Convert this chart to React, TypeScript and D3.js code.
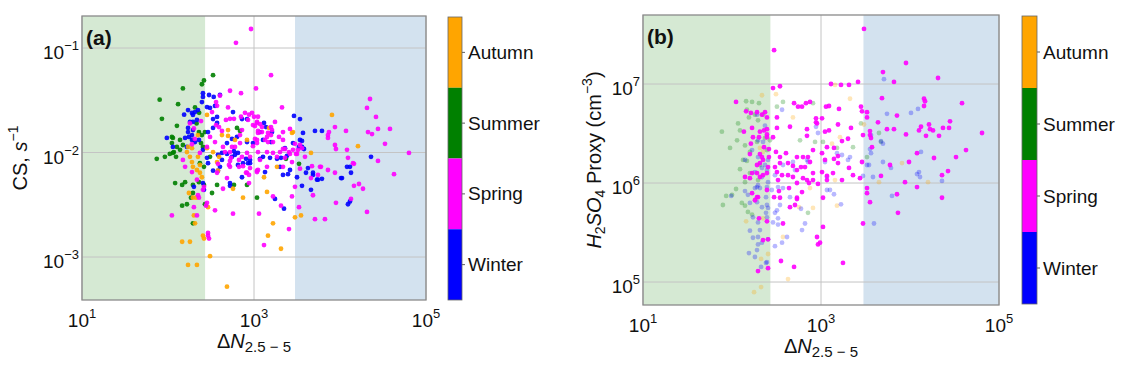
import * as d3 from "d3";

type Pt = [number, number];

const seasons = ["Winter", "Spring", "Summer", "Autumn"];
const seasonColors: Record<string, string> = {
  Winter: "#0000ff",
  Spring: "#ff00ff",
  Summer: "#008000",
  Autumn: "#ffa500",
};
// colorbar order, top to bottom
const cbarOrder = ["Autumn", "Summer", "Spring", "Winter"];

const xTicks = [10, 1000, 100000];
const csTicks = [0.001, 0.01, 0.1];
const proxyTicks = [1e5, 1e6, 1e7];
const greenBand: Pt = [10, 270];
const blueBand: Pt = [3000, 100000];

// panel (a): [ΔN2.5-5, CS (s^-1)]
const csWinter: Pt[] = [
  [255, 0.037], [255, 0.034], [300, 0.0355], [154, 0.023], [570, 0.0244], [2917, 0.0224], [3426, 0.0209],
  [22930, 0.0091], [12060, 0.0073], [13060, 0.0073], [13420, 0.0064], [10550, 0.0057], [5116, 0.0161],
  [6169, 0.0161], [3712, 0.0154], [3614, 0.0129], [3813, 0.0108], [3336, 0.0113], [2292, 0.011], [2060, 0.0089],
  [2621, 0.0068], [2484, 0.0062], [2173, 0.0061], [3162, 0.0058], [4022, 0.0064], [4850, 0.0061], [5543, 0.0055],
  [6169, 0.0056], [10270, 0.0057], [3614, 0.0048], [4597, 0.0044], [13060, 0.0034], [12380, 0.0032],
  [2232, 0.0029], [1754, 0.0036], [725, 0.0058], [200, 0.0047], [262, 0.0044], [526, 0.0048], [334, 0.0067],
  [381, 0.0067], [651, 0.0076], [852, 0.0079], [340, 0.034], [402, 0.0355], [248, 0.0304], [284, 0.0272],
  [308, 0.0267], [352, 0.0279], [1307, 0.0192], [829, 0.0209], [725, 0.0209], [1577, 0.0126], [485, 0.0123],
  [555, 0.0135], [634, 0.0141], [829, 0.0126], [973, 0.0123], [292, 0.0157], [334, 0.0172], [372, 0.0192],
  [334, 0.0209], [372, 0.0219], [190, 0.0239], [206, 0.0244], [223, 0.0255], [180, 0.0196], [195, 0.0196],
  [217, 0.0205], [171, 0.0172], [195, 0.0164], [175, 0.0141], [190, 0.0132], [206, 0.0126], [158, 0.0138],
  [97, 0.0138], [585, 0.0103], [485, 0.0097], [601, 0.0095], [424, 0.0085], [381, 0.0095], [1535, 0.0089],
  [1273, 0.0091], [1343, 0.0065], [2419, 0.0093], [807, 0.0087], [899, 0.0079], [1174, 0.0087], [1851, 0.0087],
  [2006, 0.0073], [1174, 0.0157], [1380, 0.0175], [1619, 0.0157], [1273, 0.0132], [2840, 0.0123], [3426, 0.0132],
  [3614, 0.0113], [4243, 0.0071], [4850, 0.0064], [5397, 0.0055], [255, 0.0051], [402, 0.0073], [526, 0.0051],
  [171, 0.0157], [190, 0.0147], [166, 0.0113], [229, 0.0132], [255, 0.0106], [284, 0.0089], [292, 0.0079],
  [114, 0.0113], [424, 0.0099], [555, 0.0091], [651, 0.0099], [745, 0.0079], [899, 0.0085], [195, 0.0229],
  [171, 0.0255],
];
const csSpring: Pt[] = [
  [923, 0.152], [617, 0.112], [1577, 0.055], [1055, 0.041], [402, 0.035], [526, 0.039], [706, 0.037],
  [2116, 0.027], [499, 0.027], [786, 0.024], [948, 0.024], [1000, 0.022], [22330, 0.0325], [20600, 0.0267],
  [26210, 0.0219], [38130, 0.0168], [27650, 0.0168], [21160, 0.0157], [23550, 0.015], [8738, 0.0175],
  [11740, 0.0161], [7244, 0.0147], [7440, 0.0157], [7244, 0.0138], [33350, 0.0121], [63370, 0.0099],
  [8975, 0.0108], [12060, 0.0106], [27650, 0.0083], [14150, 0.0079], [42460, 0.0062], [2621, 0.0168],
  [2996, 0.0121], [3426, 0.0118], [3614, 0.011], [8738, 0.0118], [2173, 0.0108], [2551, 0.0101], [3077, 0.0097],
  [12380, 0.0089], [2765, 0.0081], [14540, 0.0078], [6006, 0.0073], [3426, 0.007], [2173, 0.0073], [5543, 0.0061],
  [4597, 0.0057], [2996, 0.0047], [14540, 0.0048], [16620, 0.005], [18500, 0.0045], [4850, 0.0039], [2765, 0.0038],
  [13420, 0.0036], [8975, 0.0033], [3336, 0.003], [20600, 0.0027], [5116, 0.0023], [6684, 0.0023], [2551, 0.00185],
  [2060, 0.0031], [1663, 0.0038], [1307, 0.0013], [1143, 0.0026], [570, 0.0026], [352, 0.0028], [277, 0.0031],
  [284, 0.0033], [292, 0.0017], [292, 0.0016], [300, 0.0015], [111, 0.0025], [217, 0.0025], [200, 0.003],
  [255, 0.0044], [223, 0.0039], [229, 0.0037], [436, 0.0045], [807, 0.0064], [875, 0.0061], [875, 0.0051],
  [1084, 0.0067], [512, 0.0076], [526, 0.0083], [745, 0.0074], [381, 0.0078], [706, 0.022], [875, 0.023],
  [852, 0.0205], [1113, 0.022], [1084, 0.0196], [1174, 0.0187], [1027, 0.0179], [585, 0.021], [526, 0.021],
  [472, 0.0205], [1754, 0.0196], [1577, 0.0175], [1619, 0.0164], [1455, 0.0154], [1113, 0.0161], [1239, 0.0157],
  [1084, 0.0132], [1343, 0.0132], [1455, 0.0126], [424, 0.0161], [688, 0.0147], [725, 0.0164], [362, 0.0304],
  [372, 0.028], [325, 0.0244], [362, 0.0183], [392, 0.0175], [308, 0.0141], [2173, 0.0132], [2292, 0.0108],
  [2840, 0.0106], [3162, 0.0097], [460, 0.0101], [555, 0.0113], [540, 0.0089], [669, 0.0085], [526, 0.0073],
  [669, 0.0073], [829, 0.0099], [899, 0.0091], [1113, 0.0101], [1174, 0.0085], [1417, 0.0073], [973, 0.0115],
  [1027, 0.0135], [149, 0.0085], [158, 0.0073], [190, 0.0065], [217, 0.0055], [262, 0.0047], [235, 0.0099],
  [284, 0.0113], [352, 0.0126], [436, 0.0113], [526, 0.0101], [601, 0.0113], [688, 0.0123], [725, 0.0091],
  [899, 0.0071], [1084, 0.0065], [372, 0.0064], [485, 0.0057], [829, 0.0064], [1113, 0.0068], [1417, 0.0101],
  [1663, 0.0099], [1851, 0.0091], [2006, 0.0101], [2292, 0.0089], [2621, 0.0097], [1113, 0.0154], [1084, 0.0123],
  [1417, 0.0141], [1577, 0.0147], [1663, 0.0126], [2173, 0.0157], [1953, 0.0141], [973, 0.0183], [1084, 0.0192],
  [1239, 0.0175], [3248, 0.0106], [3916, 0.0091], [4722, 0.0074], [5848, 0.0073], [7244, 0.0068], [8738, 0.0064],
  [180, 0.019], [200, 0.017], [190, 0.012], [242, 0.02], [205, 0.0135],
];
const csSummer: Pt[] = [
  [334, 0.055], [262, 0.049], [248, 0.045], [149, 0.041], [80, 0.032], [85, 0.021], [131, 0.029], [127, 0.018],
  [114, 0.0138], [111, 0.0123], [138, 0.0132], [149, 0.0118], [92, 0.0091], [74, 0.0087], [114, 0.0099],
  [124, 0.0091], [138, 0.0106], [111, 0.0141], [127, 0.0113], [248, 0.0147], [269, 0.0157], [229, 0.0157],
  [242, 0.0123], [255, 0.0113], [235, 0.0079], [262, 0.0073], [308, 0.0091], [121, 0.0051], [146, 0.0049],
  [158, 0.0052], [195, 0.0049], [229, 0.0052], [146, 0.0031], [166, 0.0032], [195, 0.0021], [269, 0.0032],
  [262, 0.0049], [325, 0.0041], [372, 0.0049], [185, 0.0037], [195, 0.0041], [634, 0.0172], [688, 0.0161],
  [585, 0.0049], [829, 0.0049], [1084, 0.0037], [2355, 0.0087], [3336, 0.0078], [206, 0.027], [230, 0.024],
  [215, 0.019], [117, 0.0101], [105, 0.0097],
];
const csAutumn: Pt[] = [
  [8063, 0.0229], [16180, 0.0115], [2840, 0.0157], [2765, 0.0154], [4597, 0.0099], [3519, 0.0025], [2996, 0.0024],
  [1417, 0.0042], [1663, 0.0021], [1455, 0.0016], [2060, 0.0012], [745, 0.0037], [308, 0.00102], [485, 0.00052],
  [255, 0.0016], [262, 0.0015], [146, 0.0014], [180, 0.0014], [171, 0.00084], [217, 0.00084], [206, 0.0021],
  [200, 0.0025], [175, 0.0041], [195, 0.0037], [212, 0.0037], [292, 0.003], [1307, 0.0058], [1851, 0.0073],
  [381, 0.0067], [1494, 0.0172], [499, 0.0164], [829, 0.0132], [424, 0.0147], [570, 0.0045], [166, 0.0101],
  [180, 0.0091], [190, 0.0081], [195, 0.0073], [217, 0.0068], [235, 0.0064], [248, 0.0058], [171, 0.0113],
  [190, 0.011], [223, 0.0091], [235, 0.0076], [284, 0.011], [334, 0.0101], [392, 0.0091], [372, 0.0081],
  [499, 0.0144], [601, 0.0132], [284, 0.0229], [223, 0.0147],
];

// panel (b): [ΔN2.5-5, H2SO4 proxy (cm^-3)]
const proxySpring: Pt[] = [
  [3042, 3.6e7], [297, 2.2e7], [9015, 1.63e7], [4969, 1.32e7], [20640, 1.15e7], [6606, 1.05e7], [2606, 1.05e7],
  [2063, 9.8e6], [1677, 9.8e6], [1295, 1.0e7], [346, 9.5e6], [289, 9.1e6], [4843, 7.2e6], [14370, 7.1e6],
  [14750, 6.7e6], [14370, 6.0e6], [38410, 6.4e6], [7138, 4.8e6], [3288, 5.2e6], [3288, 4.6e6], [111, 6.6e6],
  [144, 5.3e6], [163, 5.1e6], [191, 5.2e6], [235, 5.2e6], [247, 4.6e6], [217, 4.9e6], [498, 6.4e6], [552, 5.9e6],
  [612, 5.9e6], [678, 6.4e6], [752, 6.6e6], [1138, 5.9e6], [1230, 6.0e6], [1593, 5.6e6], [2815, 5.9e6],
  [2889, 5.3e6], [320, 4.6e6], [879, 4.5e6], [879, 4.1e6], [1027, 4.5e6], [902, 4.0e6], [1552, 3.9e6],
  [320, 3.6e6], [168, 3.6e6], [136, 3.3e6], [206, 3.3e6], [247, 3.5e6], [448, 3.7e6], [696, 3.5e6], [1109, 3.3e6],
  [1230, 3.4e6], [2173, 3.6e6], [3553, 3.35e6], [3553, 3.05e6], [4368, 4.1e6], [16350, 3.9e6], [13290, 3.7e6],
  [12620, 3.4e6], [15130, 3.0e6], [18130, 3.4e6], [21180, 3.0e6], [23480, 3.6e6], [27440, 3.6e6], [28150, 4.2e6],
  [64440, 3.2e6], [42580, 2.15e6], [32880, 1.83e6], [18600, 1.79e6], [11990, 2.0e6], [9745, 1.63e6],
  [9015, 3.1e6], [6606, 3.5e6], [5958, 1.52e6], [26740, 1.32e6], [22880, 1.2e6], [8786, 1.02e6], [11990, 9.1e5],
  [3740, 2.3e6], [3645, 2.85e6], [2889, 1.63e6], [2011, 2.8e6], [1721, 2.65e6], [1552, 1.87e6], [1552, 1.59e6],
  [1399, 1.75e6], [1399, 2.26e6], [1167, 2.3e6], [1027, 2.0e6], [1109, 1.71e6], [813, 2.15e6], [752, 1.63e6],
  [661, 1.45e6], [537, 1.83e6], [628, 1.83e6], [714, 1.83e6], [426, 1.59e6], [484, 1.49e6], [537, 1.35e6],
  [596, 1.45e6], [696, 3.0e6], [813, 1.07e6], [696, 1.07e6], [312, 2.06e6], [346, 1.83e6], [404, 2.0e6],
  [346, 1.59e6], [304, 1.45e6], [320, 1.29e6], [260, 2.2e6], [260, 1.83e6], [289, 2.9e6], [229, 2.3e6],
  [247, 2.9e6], [247, 3.1e6], [163, 2.5e6], [172, 2.9e6], [201, 2.9e6], [229, 3.4e6], [159, 1.96e6], [206, 1.96e6],
  [217, 1.83e6], [223, 1.71e6], [206, 1.59e6], [191, 1.52e6], [254, 1.45e6], [247, 1.26e6], [168, 1.26e6],
  [191, 1.26e6], [206, 1.15e6], [159, 1.12e6], [140, 1.15e6], [223, 1.2e6], [426, 1.2e6], [484, 1.15e6],
  [628, 1.12e6], [813, 1.26e6], [1027, 1.29e6], [1167, 1.18e6], [1364, 1.26e6], [1721, 1.07e6], [2063, 1.42e6],
  [2289, 1.2e6], [2744, 1.12e6], [329, 1.07e6], [365, 1.2e6], [3288, 8.9e5], [3288, 7.9e5], [22880, 7.1e5],
  [7138, 7.7e5], [3553, 6.4e5], [7324, 5.0e5], [2964, 3.9e5], [1167, 1.07e6], [925, 9.8e5], [733, 1.0e6],
  [537, 1.0e6], [537, 7.1e5], [510, 6.0e5], [437, 8.9e5], [448, 5.7e5], [337, 8.3e5], [346, 7.1e5], [297, 7.2e5],
  [247, 8.5e5], [191, 7.2e5], [168, 7.9e5], [201, 4.4e5], [247, 4.1e5], [1053, 3.6e5], [1766, 1.56e5],
  [902, 2.85e5], [925, 2.4e5], [975, 2.5e5], [355, 1.63e5], [498, 1.42e5], [374, 3.9e5], [223, 2.65e5],
  [254, 2.7e5], [196, 1.29e5], [254, 1.38e5], [612, 8.1e5], [537, 6.9e5], [1053, 7.1e5], [181, 6.7e5],
  [196, 7.2e5], [5512, 3.5e6], [16770, 3.5e6], [2964, 3.05e6], [4719, 1.18e6],
];
const proxyWinter: Pt[] = [
  [5099, 1.12e7], [5512, 5.0e6], [10260, 5.1e6], [12300, 5.6e6], [3645, 3.05e6], [4719, 2.65e6], [4969, 2.5e6],
  [3553, 2.2e6], [3645, 2.0e6], [3288, 1.52e6], [3462, 1.52e6], [4969, 1.63e6], [6113, 1.42e6], [13290, 2.06e6],
  [11990, 1.23e6], [12620, 1.29e6], [12950, 1.15e6], [3838, 1.15e6], [2964, 1.18e6], [22880, 1.05e6],
  [6273, 7.4e5], [3938, 3.9e5], [217, 1.42e6], [181, 1.29e6], [217, 1.15e6], [247, 1.35e6], [254, 1.71e6],
  [196, 1.83e6], [223, 2.6e6], [365, 5.5e6], [374, 1.52e6], [484, 1.63e6], [510, 1.35e6], [696, 1.71e6],
  [714, 1.63e6], [879, 3.7e6], [925, 3.2e6], [1109, 1.63e6], [1513, 2.0e6], [1721, 1.92e6], [2011, 1.71e6],
  [2117, 1.83e6], [1167, 1.15e6], [304, 1.2e6], [254, 1.02e6], [181, 8.9e5], [196, 9.5e5], [191, 9.1e5],
  [206, 8.9e5], [247, 9.1e5], [280, 8.5e5], [329, 9.1e5], [374, 8.9e5], [241, 7.2e5], [247, 6.0e5], [254, 5.6e5],
  [241, 5.0e5], [247, 4.5e5], [98, 7.4e5], [140, 8.3e5], [151, 7.6e5], [159, 6.3e5], [191, 6.4e5], [217, 5.7e5],
  [172, 4.5e5], [196, 4.0e5], [346, 6.0e5], [320, 5.3e5], [304, 5.0e5], [329, 4.4e5], [289, 4.0e5], [329, 3.8e5],
  [661, 3.9e5], [612, 3.35e5], [365, 2.5e5], [304, 2.3e5], [415, 2.85e5], [159, 3.3e5], [172, 2.8e5],
  [196, 2.85e5], [206, 3.35e5], [254, 2.7e5], [217, 2.5e5], [196, 2.4e5], [191, 2.1e5], [181, 1.79e5],
  [155, 1.96e5], [241, 1.56e5], [247, 1.59e5], [212, 1.42e5], [1167, 8.5e5], [1262, 8.5e5], [1399, 7.7e5],
  [1677, 6.1e5], [596, 5.5e5], [448, 7.2e5], [191, 4.9e6], [235, 3.8e6], [196, 2.7e6], [168, 2.15e6],
  [140, 1.71e6], [235, 1.52e6],
];
const proxySummer: Pt[] = [
  [77, 3.3e6], [117, 4.0e6], [123, 3.4e6], [144, 6.7e6], [168, 6.6e6], [201, 6.4e6], [147, 5.5e6], [155, 4.6e6],
  [181, 4.9e6], [196, 4.3e6], [223, 4.9e6], [114, 2.7e6], [95, 2.26e6], [140, 2.4e6], [159, 2.06e6], [191, 2.6e6],
  [133, 1.71e6], [147, 1.67e6], [123, 1.38e6], [159, 1.26e6], [140, 1.02e6], [196, 1.07e6], [206, 1.52e6],
  [247, 2.15e6], [267, 2.7e6], [235, 2.85e6], [320, 5.9e6], [374, 6.6e6], [813, 6.4e6], [581, 2.7e6],
  [857, 2.6e6], [1053, 2.6e6], [1513, 2.26e6], [2289, 2.3e6], [2815, 4.0e6], [4482, 3.2e6], [4719, 2.6e6],
  [3288, 1.83e6], [86, 7.4e5], [79, 6.0e5], [111, 8.7e5], [129, 6.3e5], [140, 5.9e5], [151, 5.1e5], [168, 4.8e5],
  [714, 5.0e5], [100, 7.6e5],
];
const proxyAutumn: Pt[] = [
  [217, 7.7e6], [312, 7.9e6], [484, 4.6e6], [1329, 2.5e6], [1634, 2.9e6], [752, 8.9e5], [1436, 1.07e6],
  [206, 2.26e6], [223, 2.06e6], [8128, 1.59e6], [15930, 1.02e6], [4482, 1.02e6], [3042, 3.9e6], [144, 4.1e5],
  [223, 4.4e5], [212, 1.71e5], [177, 7.9e4], [212, 8.9e4], [426, 1.07e5], [813, 5.6e5], [1513, 5.9e5],
  [566, 5.7e5], [254, 1.92e5], [374, 2.85e5], [2117, 7.1e6], [1436, 9.8e6],
];

const font = "'Liberation Sans', Arial, Helvetica, sans-serif";

interface Series {
  data: Pt[];
  season: string;
  opacity: number;
}

interface PanelSpec {
  tag: string;
  left: number;
  right: number;
  top: number;
  bottom: number;
  yDomain: [number, number];
  yTicks: number[];
  series: Series[];
  cbarX: number;
  cbarW: number;
  cbarTop: number;
  cbarBottom: number;
}

const expLabel = (v: number) => {
  const e = Math.round(Math.log10(v));
  return e < 0 ? "\u2212" + Math.abs(e) : String(e);
};

function Panel({ p, yLabel, yLabelX }: { p: PanelSpec; yLabel: any; yLabelX: number }) {
  const x = d3.scaleLog().domain([10, 100000]).range([p.left, p.right]);
  const y = d3.scaleLog().domain(p.yDomain).range([p.bottom, p.top]);
  const cy = (p.top + p.bottom) / 2;
  const seg = (p.cbarBottom - p.cbarTop) / cbarOrder.length;

  return (
    <g fontFamily={font}>
      <rect x={p.left} y={p.top} width={p.right - p.left} height={p.bottom - p.top} fill="#fff" />
      <rect x={x(greenBand[0])} y={p.top} width={x(greenBand[1]) - x(greenBand[0])}
        height={p.bottom - p.top} fill="#d5e9d3" />
      <rect x={x(blueBand[0])} y={p.top} width={x(blueBand[1]) - x(blueBand[0])}
        height={p.bottom - p.top} fill="#d3e2ef" />
      {xTicks.map((t) => (
        <line key={"gx" + t} x1={x(t)} x2={x(t)} y1={p.top} y2={p.bottom} stroke="#c4c4c4" strokeWidth={1} />
      ))}
      {p.yTicks.map((t) => (
        <line key={"gy" + t} x1={p.left} x2={p.right} y1={y(t)} y2={y(t)} stroke="#c4c4c4" strokeWidth={1} />
      ))}
      {p.series.map((s) => (
        <g key={s.season} fill={seasonColors[s.season]} fillOpacity={s.opacity}>
          {s.data.map((d, i) => (
            <circle key={i} cx={x(d[0])} cy={y(d[1])} r={2.4} />
          ))}
        </g>
      ))}
      <rect x={p.left} y={p.top} width={p.right - p.left} height={p.bottom - p.top}
        fill="none" stroke="#8a8a8a" strokeWidth={1.3} />

      {xTicks.map((t) => (
        <text key={"tx" + t} x={x(t)} y={p.bottom + 27} textAnchor="middle" fontSize={19} fill="#111">
          10<tspan dy={-9} fontSize={13}>{expLabel(t)}</tspan>
        </text>
      ))}
      {p.yTicks.map((t) => (
        <text key={"ty" + t} x={p.left - 3} y={y(t) + 11} textAnchor="end" fontSize={19} fill="#111">
          10<tspan dy={-9} fontSize={13}>{expLabel(t)}</tspan>
        </text>
      ))}

      <text x={p.left + 4} y={p.top + 29} fontSize={21} fontWeight="bold" fill="#111">{p.tag}</text>

      <text x={(p.left + p.right) / 2} y={p.bottom + 48} textAnchor="middle" fontSize={20} fill="#111">
        {"\u0394"}<tspan fontStyle="italic">N</tspan>
        <tspan fontSize={15} dy={4}>{"2.5 \u2212 5"}</tspan>
      </text>

      <text transform={`translate(${yLabelX},${cy}) rotate(-90)`} textAnchor="middle" fontSize={20} fill="#111">
        {yLabel}
      </text>

      {cbarOrder.map((name, i) => (
        <g key={name}>
          <rect x={p.cbarX} y={p.cbarTop + i * seg} width={p.cbarW} height={seg} fill={seasonColors[name]} />
          <line x1={p.cbarX + p.cbarW} x2={p.cbarX + p.cbarW + 3} y1={p.cbarTop + (i + 0.5) * seg}
            y2={p.cbarTop + (i + 0.5) * seg} stroke="#333" strokeWidth={0.8} />
          <text x={p.cbarX + p.cbarW + 6} y={p.cbarTop + (i + 0.5) * seg} dominantBaseline="central"
            fontSize={19} fill="#111">{name}</text>
        </g>
      ))}
      <rect x={p.cbarX} y={p.cbarTop} width={p.cbarW} height={p.cbarBottom - p.cbarTop}
        fill="none" stroke="#666" strokeWidth={0.8} />
    </g>
  );
}

const panelA: PanelSpec = {
  tag: "(a)",
  left: 82, right: 426, top: 16, bottom: 300,
  yDomain: [3.88e-4, 0.2024],
  yTicks: csTicks,
  series: [
    { season: "Summer", data: csSummer, opacity: 0.9 },
    { season: "Winter", data: csWinter, opacity: 0.9 },
    { season: "Autumn", data: csAutumn, opacity: 0.9 },
    { season: "Spring", data: csSpring, opacity: 0.9 },
  ],
  cbarX: 448, cbarW: 14, cbarTop: 17, cbarBottom: 300,
};

const panelB: PanelSpec = {
  tag: "(b)",
  left: 643, right: 999, top: 15, bottom: 305,
  yDomain: [5.86e4, 4.98e7],
  yTicks: proxyTicks,
  series: [
    { season: "Summer", data: proxySummer, opacity: 0.28 },
    { season: "Autumn", data: proxyAutumn, opacity: 0.28 },
    { season: "Winter", data: proxyWinter, opacity: 0.28 },
    { season: "Spring", data: proxySpring, opacity: 0.9 },
  ],
  cbarX: 1022, cbarW: 15, cbarTop: 16, cbarBottom: 304,
};

export default function App() {
  return (
    <div style={{ position: "absolute", left: 0, top: 0 }}>
      <svg width={1133} height={372} style={{ display: "block", background: "#fff" }}>
        <Panel p={panelA} yLabelX={27} yLabel={<>
          CS, <tspan fontStyle="italic">s</tspan><tspan dy={-9} fontSize={14}>{"\u22121"}</tspan>
        </>} />
        <Panel p={panelB} yLabelX={601} yLabel={<>
          <tspan fontStyle="italic">H</tspan><tspan dy={4} fontSize={14}>2</tspan>
          <tspan dy={-4} fontStyle="italic">SO</tspan><tspan dy={4} fontSize={14}>4</tspan>
          <tspan dy={-4}>{" Proxy (cm"}</tspan><tspan dy={-9} fontSize={14}>{"\u22123"}</tspan>
          <tspan dy={9}>)</tspan>
        </>} />
      </svg>
    </div>
  );
}
